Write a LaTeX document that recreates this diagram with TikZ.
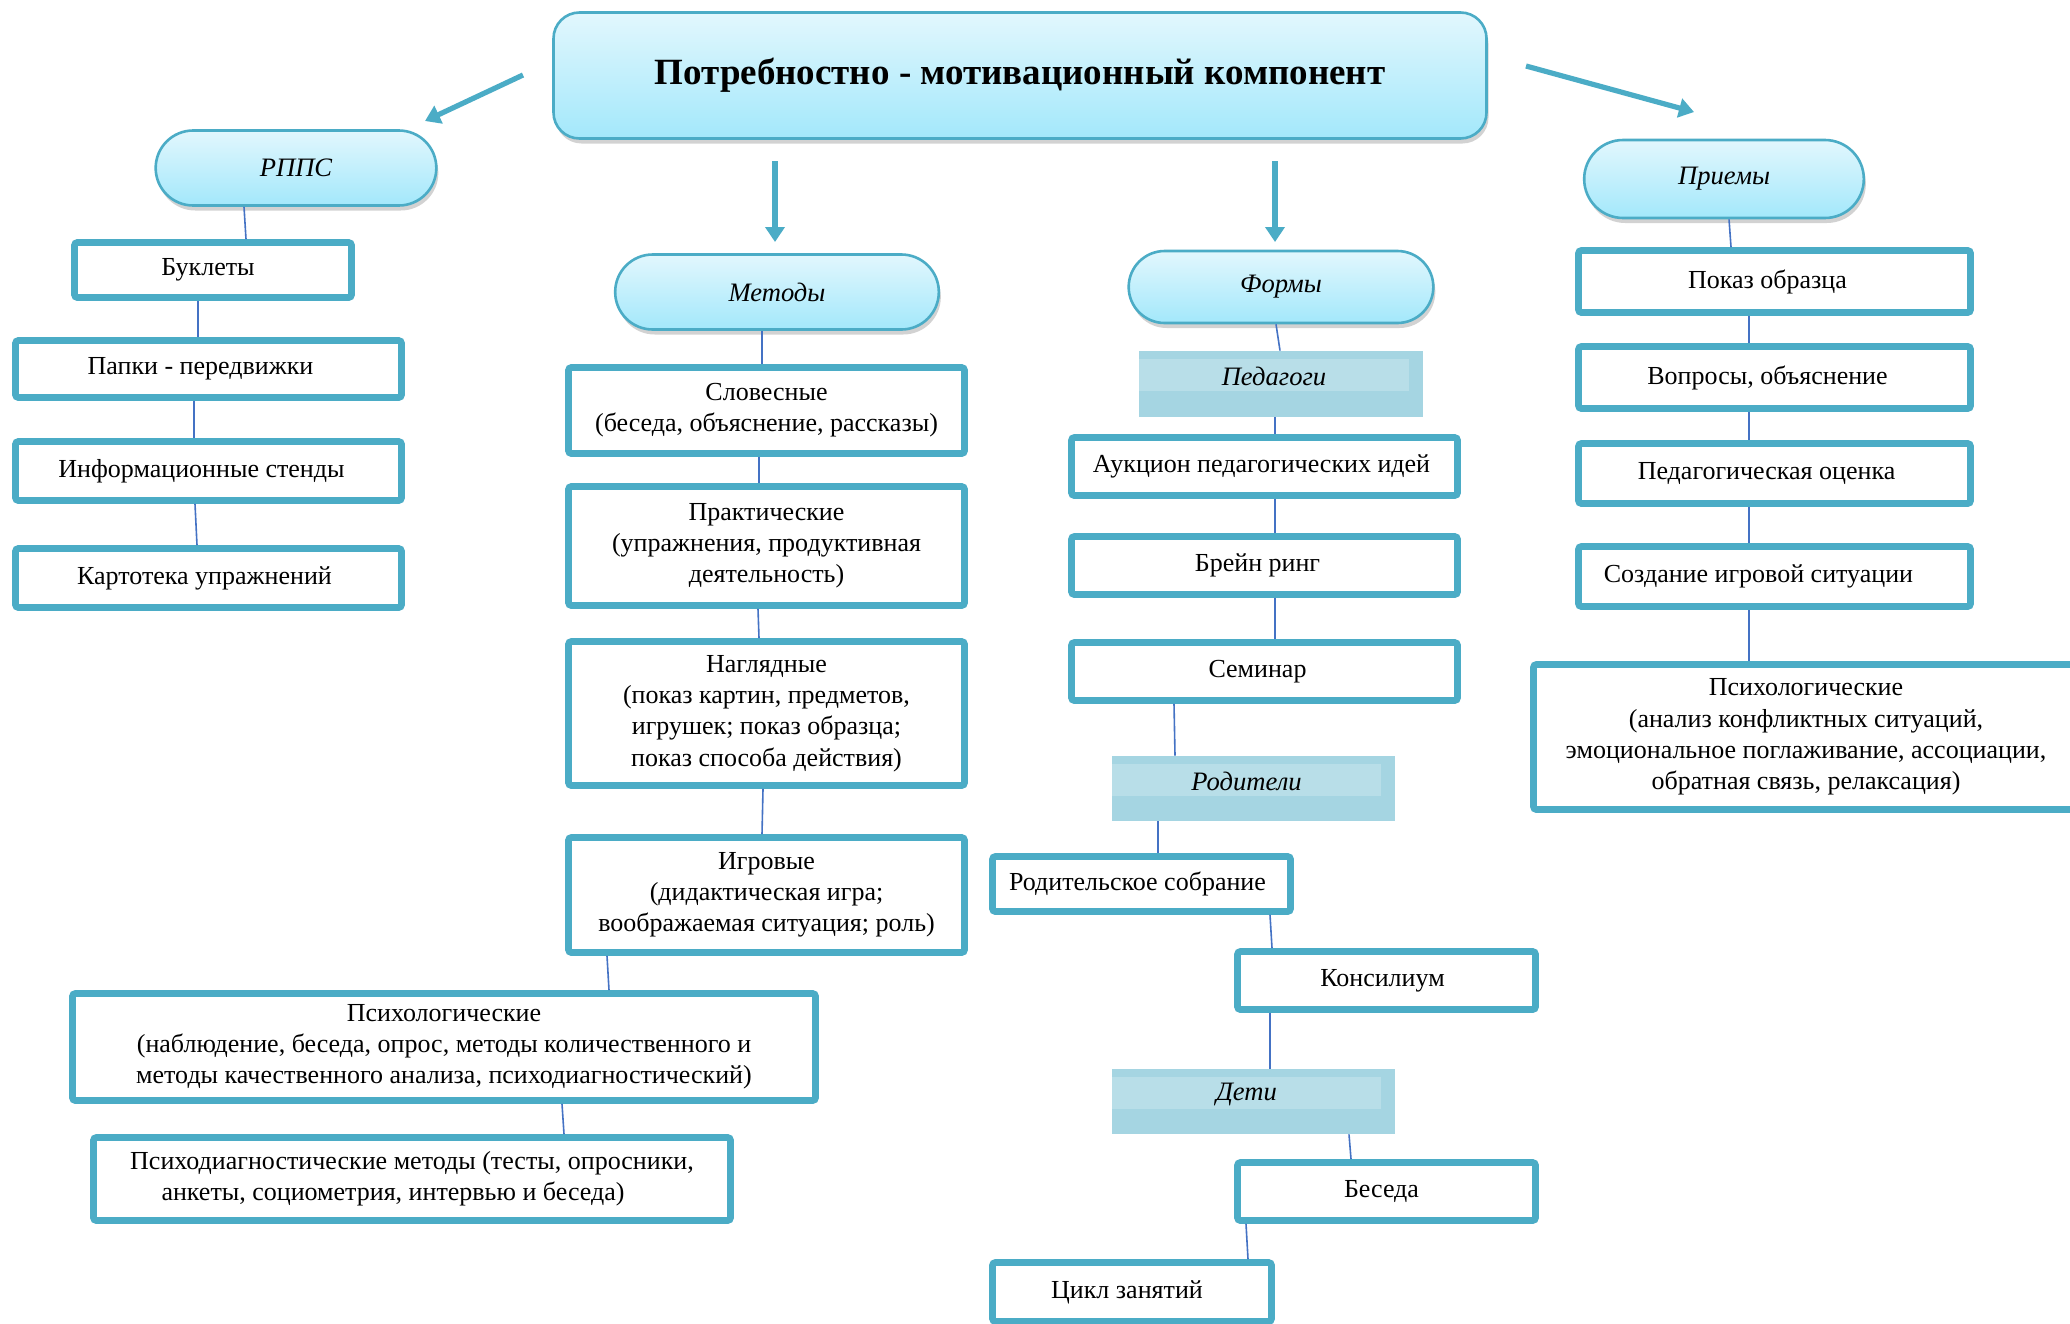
\documentclass[tikz,border=0pt]{standalone}
\usepackage{fontspec}
\setmainfont{Liberation Serif}
\usetikzlibrary{arrows.meta,shapes.misc,shadows,calc}
\definecolor{bord}{HTML}{4BACC6}
\definecolor{connc}{HTML}{4472C4}
\definecolor{gtop}{HTML}{E2F7FD}
\definecolor{gbot}{HTML}{A3E8FB}
\definecolor{bandc}{HTML}{A5D5E2}
\definecolor{bandhi}{HTML}{B8DEE8}
\tikzset{
  box/.style={draw=bord, line width=3.4pt, fill=white, rounded corners=1.5pt, inner sep=2pt, align=center,
    font=\fontsize{13}{15.6}\selectfont},
  pill/.style={rounded rectangle, draw=bord, line width=1.3pt, top color=gtop, bottom color=gbot,
    drop shadow={shadow xshift=1pt, shadow yshift=-2.5pt, opacity=0.35},
    font=\fontsize{13.3}{16}\selectfont\itshape},
  mainbox/.style={rectangle, rounded corners=13pt, draw=bord, line width=1.3pt, top color=gtop, bottom color=gbot,
    drop shadow={shadow xshift=1pt, shadow yshift=-2.5pt, opacity=0.35},
    font=\fontsize{18.5}{22}\selectfont\bfseries},
  bandbox/.style={fill=bandc, inner sep=0pt},
  bandlabel/.style={inner sep=0pt, font=\fontsize{13.3}{16}\selectfont\itshape},
  connector/.style={draw=connc, line width=0.8pt},
  bigarrow/.style={draw=bord, line width=2.6pt, -{Triangle[width=9.5pt,length=7.5pt]}},
}
\newcommand\BX[6]{\node[box, minimum width={(#4-#2-7)*0.5pt}, minimum height={(#5-#3-7)*0.5pt}] (#1) at ({(#2+#4)/2},{(#3+#5)/2}) {#6};}
\newcommand\BAND[6]{% name, x1,y1,x2,y2, text
  \node[bandbox, minimum width={(#4-#2)*0.5pt}, minimum height={(#5-#3)*0.5pt}] (#1) at ({(#2+#4)/2},{(#3+#5)/2}) {};
  \fill[bandhi] (#2,#3+8) rectangle (#4-14,#3+40);
  \node[bandlabel] (#1t) at ({(#2+#4-14)/2},#3+25) {#6};}
\begin{document}
\begin{tikzpicture}[x=0.5pt,y=-0.5pt]
\useasboundingbox (0,0) rectangle (2070,1323);
\clip (0,0) rectangle (2070,1323);
\fill[white] (0,0) rectangle (2070,1323);

% main
\node[mainbox, minimum width={933*0.5pt}, minimum height={126*0.5pt}] (main) at (1020,75.5) {Потребностно - мотивационный компонент};

% pills
\node[pill, minimum width={294*0.5pt}, minimum height={75*0.5pt}] (rpps) at (296,168) {РППС};
\node[pill, minimum width={337*0.5pt}, minimum height={75*0.5pt}] (metody) at (777,292) {Методы};
\node[pill, minimum width={318*0.5pt}, minimum height={72*0.5pt}] (formy) at (1281,287) {Формы};
\node[pill, minimum width={293*0.5pt}, minimum height={78*0.5pt}] (priemy) at (1724,179) {Приемы};

% arrows
\coordinate (aLs) at (523,75); \coordinate (aLe) at (425,121);
\coordinate (aRs) at (1526,66); \coordinate (aRe) at (1694,112);
\coordinate (aM1s) at (775,161); \coordinate (aM1e) at (775,242);
\coordinate (aM2s) at (1275,161); \coordinate (aM2e) at (1275,242);
\draw[bigarrow] (aLs) -- (aLe);
\draw[bigarrow] (aRs) -- (aRe);
\draw[bigarrow] (aM1s) -- (aM1e);
\draw[bigarrow] (aM2s) -- (aM2e);

% left column
\BX{buk}{71}{239}{355}{301}{Буклеты\hspace*{5pt}}
\BX{papki}{12}{337}{405}{401}{Папки - передвижки\hspace*{8pt}}
\BX{inf}{12}{438}{405}{504}{Информационные стенды\hspace*{7pt}}
\BX{kart}{12}{545}{405}{611}{Картотека упражнений\hspace*{4pt}}

% methods column
\BX{slov}{565}{364}{968}{457}{Словесные\\(беседа, объяснение, рассказы)}
\BX{prakt}{565}{483}{968}{609}{Практические\\(упражнения, продуктивная\\деятельность)}
\BX{nagl}{565}{638}{968}{789}{Наглядные\\(показ картин, предметов,\\игрушек; показ образца;\\показ способа действия)}
\BX{igr}{565}{834}{968}{956}{Игровые\\(дидактическая игра;\\воображаемая ситуация; роль)}
\BX{psyL}{69}{990}{819}{1104}{Психологические\\(наблюдение, беседа, опрос, методы количественного и\\методы качественного анализа, психодиагностический)}
\BX{psyD}{90}{1134}{734}{1224}{Психодиагностические методы (тесты, опросники,\\анкеты, социометрия, интервью и беседа)\hspace*{19pt}}

% forms column
\BAND{ped}{1139}{351}{1423}{417}{Педагоги}
\BX{auk}{1068}{434}{1461}{499}{Аукцион педагогических идей\hspace*{3pt}}
\BX{brein}{1068}{533}{1461}{598}{Брейн ринг\hspace*{7pt}}
\BX{sem}{1068}{639}{1461}{704}{Семинар\hspace*{7pt}}
\BAND{rod}{1112}{756}{1395}{821}{Родители}
\BX{rsob}{989}{853}{1294}{915}{Родительское собрание\hspace*{4pt}}
\BX{kons}{1234}{948}{1539}{1013}{Консилиум\hspace*{4pt}}
\BAND{deti}{1112}{1069}{1395}{1134}{Дети}
\BX{bes}{1234}{1159}{1539}{1224}{Беседа\hspace*{5pt}}
\BX{cikl}{989}{1259}{1275}{1325}{Цикл занятий\hspace*{5pt}}

% techniques column
\BX{pokaz}{1575}{247}{1974}{316}{Показ образца\hspace*{7pt}}
\BX{vopr}{1575}{343}{1974}{412}{Вопросы, объяснение\hspace*{7pt}}
\BX{pedo}{1575}{440}{1974}{507}{Педагогическая оценка\hspace*{8pt}}
\BX{sozd}{1575}{543}{1974}{610}{Создание игровой ситуации\hspace*{16pt}}
\BX{psyR}{1530}{661}{2082}{813}{Психологические\\(анализ конфликтных ситуаций,\\эмоциональное поглаживание, ассоциации,\\обратная связь, релаксация)}

% connectors
\draw[connector] (rpps.south -| 244,0) -- (buk.north -| 246,0);
\draw[connector] (buk.south -| 198,0) -- (papki.north -| 198,0);
\draw[connector] (papki.south -| 194,0) -- (inf.north -| 194,0);
\draw[connector] (inf.south -| 195,0) -- (kart.north -| 197,0);

\draw[connector] (metody.south -| 762,0) -- (slov.north -| 762,0);
\draw[connector] (slov.south -| 759,0) -- (prakt.north -| 759,0);
\draw[connector] (prakt.south -| 758,0) -- (nagl.north -| 759,0);
\draw[connector] (nagl.south -| 763,0) -- (igr.north -| 762,0);
\draw[connector] (igr.south -| 607,0) -- (psyL.north -| 609,0);
\draw[connector] (psyL.south -| 562,0) -- (psyD.north -| 564,0);

\draw[connector] (formy.south -| 1276,0) -- (ped.north -| 1280,0);
\draw[connector] (ped.south -| 1275,0) -- (auk.north -| 1275,0);
\draw[connector] (auk.south -| 1275,0) -- (brein.north -| 1275,0);
\draw[connector] (brein.south -| 1275,0) -- (sem.north -| 1275,0);
\draw[connector] (sem.south -| 1174,0) -- (rod.north -| 1175,0);
\draw[connector] (rod.south -| 1158,0) -- (rsob.north -| 1158,0);
\draw[connector] (rsob.south -| 1270,0) -- (kons.north -| 1272,0);
\draw[connector] (kons.south -| 1270,0) -- (deti.north -| 1270,0);
\draw[connector] (deti.south -| 1349,0) -- (bes.north -| 1351,0);
\draw[connector] (bes.south -| 1246,0) -- (cikl.north -| 1248,0);

\draw[connector] (priemy.south -| 1729,0) -- (pokaz.north -| 1731,0);
\draw[connector, line width=1.4pt] (pokaz.south -| 1749,0) -- (vopr.north -| 1749,0);
\draw[connector] (vopr.south -| 1749,0) -- (pedo.north -| 1749,0);
\draw[connector] (pedo.south -| 1749,0) -- (sozd.north -| 1749,0);
\draw[connector] (sozd.south -| 1749,0) -- (psyR.north -| 1749,0);
\end{tikzpicture}
\end{document}
